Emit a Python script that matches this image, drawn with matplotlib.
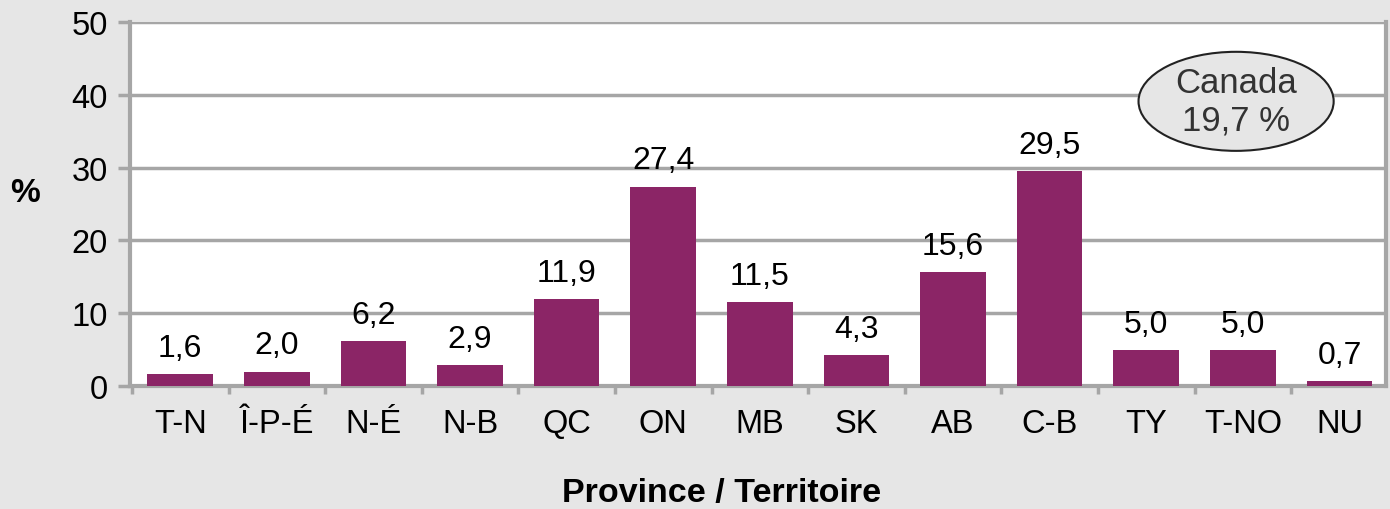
import numpy as np
import matplotlib
matplotlib.use("Agg")
import matplotlib.pyplot as plt
from matplotlib.patches import Ellipse

provinces = ["T-N", "Î-P-É", "N-É", "N-B", "QC", "ON", "MB", "SK", "AB", "C-B", "TY", "T-NO", "NU"]
values = [1.6, 2.0, 6.2, 2.9, 11.9, 27.4, 11.5, 4.3, 15.6, 29.5, 5.0, 5.0, 0.7]
labels = ["1,6", "2,0", "6,2", "2,9", "11,9", "27,4", "11,5", "4,3", "15,6", "29,5", "5,0", "5,0", "0,7"]

plt.rcParams['font.family'] = ['Liberation Sans', 'DejaVu Sans']

bg = '#e6e6e6'
grid_c = '#a6a6a6'
bar_c = '#8b2566'

fig = plt.figure(figsize=(13.9, 5.1), dpi=100, facecolor=bg)
ax = fig.add_axes([0.0935, 0.241, 0.9035, 0.714])
ax.set_facecolor('white')

x = np.arange(len(provinces))
ax.bar(x, values, width=0.68, color=bar_c, zorder=3)
for xi, v, lab in zip(x, values, labels):
    ax.annotate(lab, (xi, v), xytext=(0, 8), textcoords='offset points',
                ha='center', va='bottom', fontsize=23, color='black')

ax.set_xlim(-0.52, 12.48)
ax.set_ylim(0, 50)
ax.set_yticks([0, 10, 20, 30, 40, 50])
ax.yaxis.grid(True, color=grid_c, linewidth=2.5, zorder=0)
ax.set_axisbelow(True)

ax.set_xticks(x)
ax.set_xticklabels(provinces)
ax.set_xticks(np.arange(-0.5, 12.5, 1), minor=True)
ax.tick_params(axis='x', which='major', length=0, pad=16, labelsize=23.5)
ax.tick_params(axis='x', which='minor', length=6, width=2.5, color=grid_c)
ax.tick_params(axis='y', length=9, width=2.5, color=grid_c, pad=7, labelsize=23.5)

for side in ['left', 'bottom', 'right']:
    ax.spines[side].set_color(grid_c)
    ax.spines[side].set_linewidth(3)
ax.spines['top'].set_visible(False)

ell = Ellipse((10.93, 39.1), 2.02, 13.6, facecolor=bg, edgecolor='#222222',
              linewidth=1.5, zorder=5)
ax.add_patch(ell)
ax.text(10.93, 39.1, "Canada\n19,7 %", ha='center', va='center', fontsize=25,
        color='#333333', zorder=6, linespacing=1.2)

fig.text(0.519, 0.033, "Province / Territoire", ha='center', va='center',
         fontsize=24.5, fontweight='bold')
fig.text(0.018, 0.62, "%", ha='center', va='center', fontsize=24, fontweight='bold')

fig.savefig("out.png", dpi=100, facecolor=bg)
